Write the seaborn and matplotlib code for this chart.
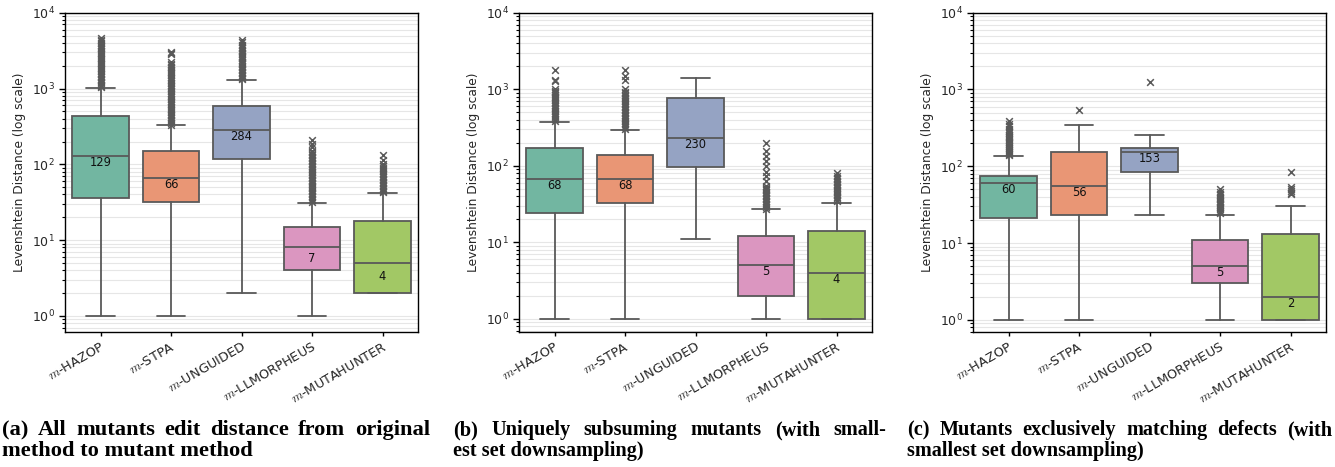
import numpy as np
import pandas as pd
import matplotlib
matplotlib.use("Agg")
import matplotlib.pyplot as plt
import seaborn as sns

# ---------------- data ----------------
categories = ["$m$-HAZOP", "$m$-STPA", "$m$-UNGUIDED", "$m$-LLMORPHEUS", "$m$-MUTAHUNTER"]
ylabel = "Levenshtein Distance (log scale)"

# (a) all mutants
a_whislo = [1, 1, 2, 1, 2]
a_q1 = [36, 32, 116, 4, 2]
a_med = [129, 66, 285, 8, 5]
a_q3 = [432, 149, 586, 15, 18]
a_whishi = [1023, 326, 1305, 31, 42]
a_labels = [129, 66, 284, 7, 4]
a_out_hazop = [1040, 1080, 1120, 1170, 1220, 1280, 1340, 1400, 1470, 1540, 1620, 1700,
               1790, 1880, 1980, 2080, 2190, 2300, 2420, 2550, 2680, 2820, 2970, 3120,
               3280, 3450, 3600, 3800, 4000, 4200, 4400, 4580]
a_out_stpa = [335, 350, 368, 386, 405, 425, 446, 468, 492, 516, 542, 569, 598, 628, 659,
              692, 727, 763, 801, 841, 883, 927, 974, 1020, 1070, 1125, 1180, 1240, 1300,
              1370, 1440, 1510, 1580, 1660, 1750, 1840, 1930, 2030, 2130, 2230, 2850,
              2950, 3050]
a_out_unguided = [1330, 1390, 1450, 1520, 1590, 1660, 1740, 1820, 1900, 1990, 2080, 2170,
                  2270, 2380, 2490, 2600, 2720, 2850, 2980, 3120, 3260, 3400, 3560, 3800,
                  4100, 4350]
a_out_llmorpheus = [32, 33.5, 35, 36.6, 38.3, 40, 42, 44, 46, 48, 50, 52.5, 55, 57.5, 60,
                    63, 66, 69, 72, 75.5, 79, 83, 87, 91, 95, 100, 105, 110, 115, 120, 126,
                    132, 138, 145, 152, 170, 188, 211]
a_out_mutahunter = [43, 45, 47, 49, 51.5, 54, 56.5, 59, 62, 65, 68, 71, 74.5, 78, 82, 86,
                    90, 94, 102, 113, 132]

# (b) uniquely subsuming mutants
b_whislo = [1, 1, 11, 1, 1]
b_q1 = [24, 33, 96, 2, 1]
b_med = [68, 68, 234, 5, 4]
b_q3 = [169, 139, 772, 12, 14]
b_whishi = [378, 297, 1410, 27, 33]
b_labels = [68, 68, 230, 5, 4]
b_out_hazop = [390, 410, 430, 450, 472, 495, 520, 545, 570, 600, 630, 660, 690, 725, 760,
               800, 840, 880, 920, 960, 995, 1270, 1310, 1810]
b_out_stpa = [305, 320, 335, 350, 367, 385, 403, 422, 442, 463, 485, 508, 532, 557, 583,
              611, 640, 670, 702, 735, 770, 806, 844, 884, 925, 1010, 1340, 1500, 1810]
b_out_unguided = []
b_out_llmorpheus = [27.5, 29, 30.5, 32, 33.5, 35, 36.5, 38, 40, 42, 44, 46, 48, 50, 52, 54,
                    63, 73, 84, 98, 114, 133, 154, 198]
b_out_mutahunter = [34.5, 36, 37.5, 39, 41, 43, 45, 47, 49, 51, 53.5, 56, 58.5, 61, 64, 67,
                    70, 73, 80]

# (c) mutants exclusively matching defects
c_whislo = [1, 1, 23.4, 1, 1]
c_q1 = [21, 23.4, 84, 3, 1]
c_med = [61, 56, 153, 5, 2]
c_q3 = [75, 154, 173, 11, 13]
c_whishi = [136, 349, 256, 23.4, 30]
c_labels = [60, 56, 153, 5, 2]
c_out_hazop = [140, 146, 152, 158, 165, 172, 179, 186, 194, 202, 210, 219, 228, 237, 247,
               257, 268, 279, 290, 302, 330, 360, 386]
c_out_stpa = [548]
c_out_unguided = [1234]
c_out_llmorpheus = [24.5, 25.5, 26.5, 27.5, 28.5, 29.5, 31, 32.5, 34, 35.5, 37, 38.5, 40,
                    42, 44, 46, 51]
c_out_mutahunter = [43, 45, 47, 50, 53, 84]

captions = [
    ("(a) All mutants edit distance from original", "method to mutant method"),
    ("(b) Uniquely subsuming mutants (with small-", "est set downsampling)"),
    ("(c) Mutants exclusively matching defects (with", "smallest set downsampling)"),
]

# ---------------- style ----------------
sns.set_theme(style="ticks")
plt.rcParams["font.family"] = ["DejaVu Sans"]
plt.rcParams["mathtext.fontset"] = "cm"

palette = sns.color_palette("Set2", 5, desat=0.75)
lc = "#595959"
lw = 1.3

W, H = 1335, 467
fig = plt.figure(figsize=(W / 100, H / 100), dpi=100)

panels = [
    (a_whislo, a_q1, a_med, a_q3, a_whishi, a_labels,
     [a_out_hazop, a_out_stpa, a_out_unguided, a_out_llmorpheus, a_out_mutahunter], 0.62),
    (b_whislo, b_q1, b_med, b_q3, b_whishi, b_labels,
     [b_out_hazop, b_out_stpa, b_out_unguided, b_out_llmorpheus, b_out_mutahunter], 0.68),
    (c_whislo, c_q1, c_med, c_q3, c_whishi, c_labels,
     [c_out_hazop, c_out_stpa, c_out_unguided, c_out_llmorpheus, c_out_mutahunter], 0.70),
]
lefts_px = [65.3, 519.3, 973.3]
ax_w_px = 352.5
top_px, bottom_px = 12.7, 331.7

for (whislo, q1, med, q3, whishi, labels, outs, ybot), lpx in zip(panels, lefts_px):
    ax = fig.add_axes([lpx / W, 1 - bottom_px / H, ax_w_px / W, (bottom_px - top_px) / H])
    ax.set_yscale("log")
    stats = [dict(whislo=whislo[i], q1=q1[i], med=med[i], q3=q3[i], whishi=whishi[i],
                  fliers=[]) for i in range(len(categories))]
    res = ax.bxp(stats, positions=list(range(len(categories))), widths=0.8, capwidths=0.4,
                 patch_artist=True, showfliers=False, manage_ticks=False,
                 boxprops=dict(edgecolor=lc, linewidth=lw),
                 whiskerprops=dict(color=lc, linewidth=lw),
                 capprops=dict(color=lc, linewidth=lw),
                 medianprops=dict(color=lc, linewidth=lw))
    for patch, col in zip(res["boxes"], palette):
        patch.set_facecolor(col)
        patch.set_zorder(2)
    cat_col, val_col = [], []
    for cname, vals in zip(categories, outs):
        cat_col += [cname] * len(vals)
        val_col += list(vals)
    df = pd.DataFrame({"cat": cat_col, "val": val_col})
    sns.stripplot(data=df, x="cat", y="val", order=categories, jitter=False, marker="x",
                  color=lc, size=4.8, linewidth=1.1, ax=ax, zorder=3)
    for i, lab in enumerate(labels):
        ax.text(i, lab, str(lab), ha="center", va="top", fontsize=8.3, color="#111111",
                zorder=4)
    ax.set_xlim(-0.5, 4.5)
    ax.set_ylim(ybot, 1e4)
    ax.set_xticks(range(len(categories)))
    ax.set_xticklabels(categories, rotation=30, ha="right", rotation_mode="anchor",
                       fontsize=9.3)
    ax.set_xlabel("")
    ax.set_ylabel(ylabel, fontsize=8.8)
    ax.yaxis.grid(True, which="both", color="#e6e6e6", linewidth=0.8)
    ax.xaxis.grid(False)
    ax.set_axisbelow(True)
    ax.tick_params(axis="y", which="major", length=4, width=1, labelsize=9, color="black")
    ax.tick_params(axis="y", which="minor", length=2.5, width=0.8, color="black")
    ax.tick_params(axis="x", which="major", length=3, width=1, color="black", pad=3)
    for s in ax.spines.values():
        s.set_visible(True)
        s.set_color("black")
        s.set_linewidth(1.0)

# ---------------- captions ----------------
renderer = fig.canvas.get_renderer()


def cap_font(size):
    return dict(family="Liberation Serif", weight="bold", fontsize=size, color="black")


def justify(text, x0, x1, y, size):
    words = text.split()
    objs = [fig.text(0, y, w, ha="left", va="baseline", **cap_font(size)) for w in words]
    widths = [o.get_window_extent(renderer).width for o in objs]
    gap = (x1 - x0 - sum(widths)) / max(len(words) - 1, 1)
    x = x0
    for o, wdt in zip(objs, widths):
        o.set_x(x / W)
        x += wdt + gap


cap_x0 = [2, 453, 907]
cap_x1 = [430, 886, 1332]
cap_size = [16.2, 14.6, 14.6]
for (l1, l2), x0, x1, sz in zip(captions, cap_x0, cap_x1, cap_size):
    justify(l1, x0, x1, 1 - 435 / H, sz)
    fig.text(x0 / W, 1 - 456 / H, l2, ha="left", va="baseline", **cap_font(sz))

fig.savefig("out.png", dpi=100)
